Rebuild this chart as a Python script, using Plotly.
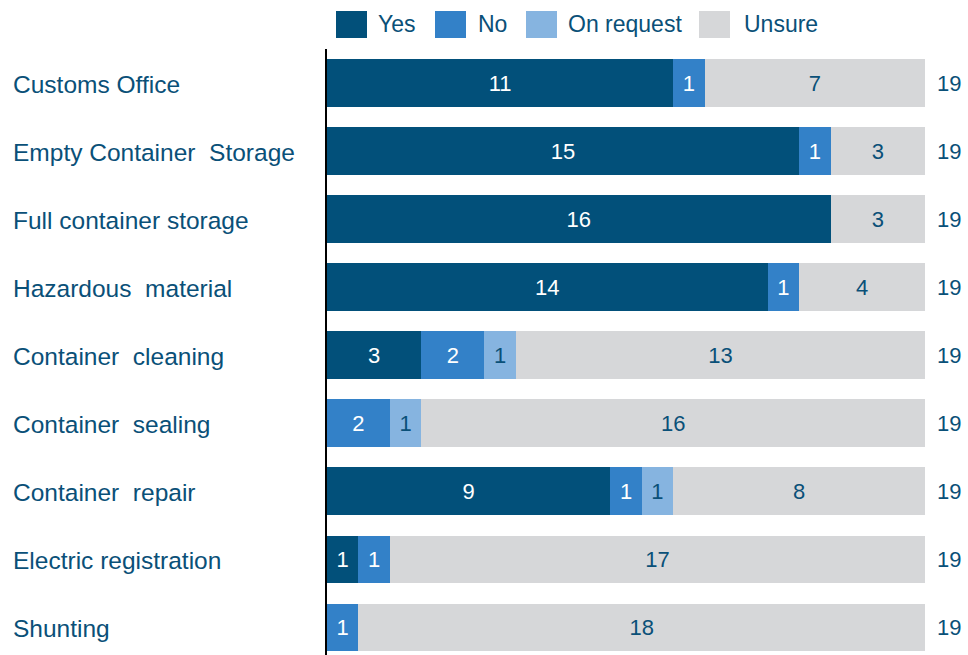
import plotly.graph_objects as go

categories = ["Customs Office", "Empty Container  Storage", "Full container storage",
              "Hazardous  material", "Container  cleaning", "Container  sealing",
              "Container  repair", "Electric registration", "Shunting"]
yes = [11, 15, 16, 14, 3, 0, 9, 1, 0]
no = [1, 1, 0, 1, 2, 2, 1, 1, 1]
on_request = [0, 0, 0, 0, 1, 1, 1, 0, 0]
unsure = [7, 3, 3, 4, 13, 16, 8, 17, 18]
series_names = ["Yes", "No", "On request", "Unsure"]

colors = ["#02507A", "#3381C8", "#86B4E0", "#D6D7D9"]
text_colors = ["white", "white", "#0A5078", "#0A5078"]
TXT = "#0A5078"
FONT = "Liberation Sans, Arial, sans-serif"

W, H = 968, 655
L, R, T, B = 327, 43, 49, 0
PW, PH = W - L - R, H - T - B

def px_x(px):
    return (px - L) / PW

def px_y(py):
    return (H - B - py) / PH

fig = go.Figure()
for name, vals, c, tc in zip(series_names, [yes, no, on_request, unsure], colors, text_colors):
    fig.add_trace(go.Bar(
        y=categories, x=vals, name=name, orientation="h",
        marker=dict(color=c, line=dict(width=0)),
        text=[str(v) if v else "" for v in vals],
        textposition="inside", insidetextanchor="middle",
        textfont=dict(color=tc, size=22, family=FONT),
        showlegend=False, hoverinfo="skip",
    ))

totals = [a + b + c + d for a, b, c, d in zip(yes, no, on_request, unsure)]
annotations = []
for cat, tot in zip(categories, totals):
    annotations.append(dict(x=tot, y=cat, xref="x", yref="y", text=str(tot),
                            xanchor="left", xshift=10, showarrow=False,
                            font=dict(size=22, color=TXT, family=FONT)))
    annotations.append(dict(x=px_x(11), y=cat, xref="paper", yref="y",
                            text=cat.replace("  ", " \u00a0"), yshift=-1,
                            xanchor="left", showarrow=False,
                            font=dict(size=24.5, color=TXT, family=FONT)))

# custom legend
legend_sq = [336, 435, 526, 699]
legend_tx = [376, 476, 566, 742]
shapes = []
for name, c, sx, tx in zip(series_names, colors, legend_sq, legend_tx):
    shapes.append(dict(type="rect", xref="paper", yref="paper",
                       x0=px_x(sx), x1=px_x(sx + 31), y0=px_y(38), y1=px_y(11),
                       fillcolor=c, line=dict(width=0)))
    annotations.append(dict(x=px_x(tx), y=px_y(24), xref="paper", yref="paper",
                            text=name, xanchor="left", yanchor="middle", showarrow=False,
                            font=dict(size=23, color=TXT, family=FONT)))

fig.update_layout(
    barmode="stack", bargap=0.3,
    width=W, height=H,
    margin=dict(l=L, r=R, t=T, b=B, pad=0),
    paper_bgcolor="white", plot_bgcolor="white",
    xaxis=dict(range=[0, 19], visible=False, fixedrange=True),
    yaxis=dict(range=[8.406, -0.5], showticklabels=False, showgrid=False,
               zeroline=False, ticks="", showline=True, linecolor="black",
               linewidth=2, categoryorder="array", categoryarray=categories),
    annotations=annotations, shapes=shapes,
    font=dict(family=FONT, color=TXT),
)

fig.write_html("out.html")
